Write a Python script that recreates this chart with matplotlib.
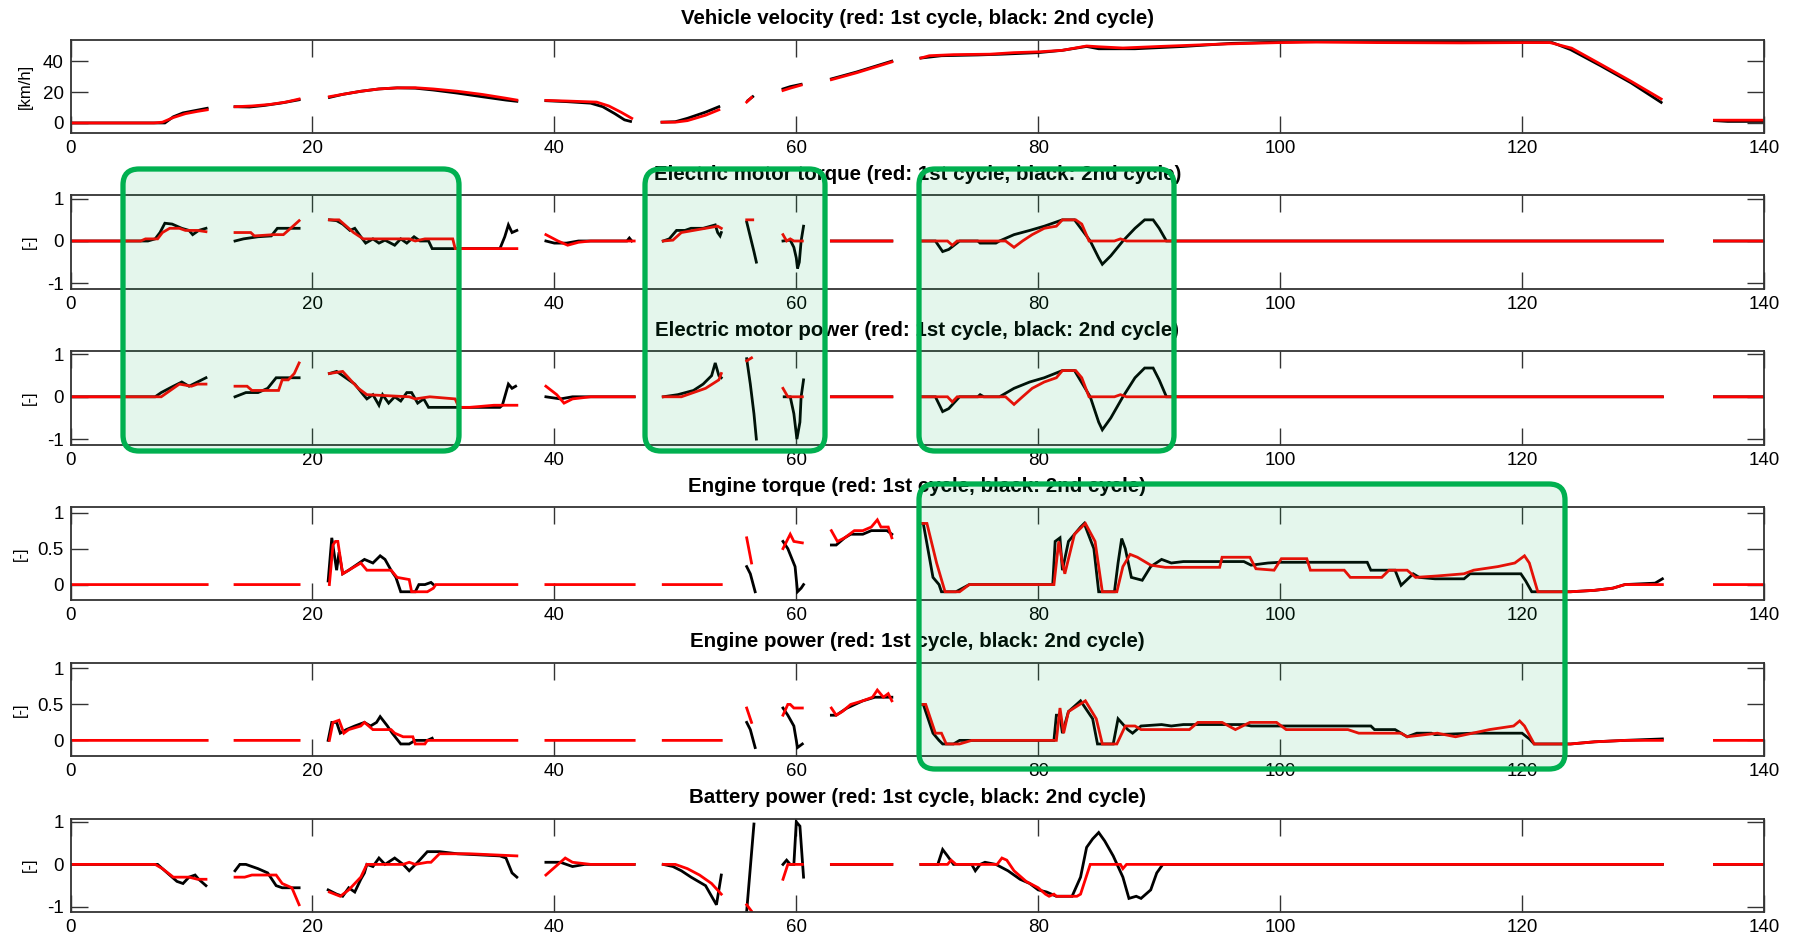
import numpy as np
import matplotlib
matplotlib.use("Agg")
import matplotlib.pyplot as plt
from matplotlib import font_manager
from matplotlib.patches import FancyBboxPatch

# fonts: MATLAB-like narrow tick labels, Arial-like bold titles
names = {f.name for f in font_manager.fontManager.ttflist}
tick_font = 'Liberation Sans Narrow' if 'Liberation Sans Narrow' in names else 'Liberation Sans'
plt.rcParams['font.family'] = ['Liberation Sans', 'DejaVu Sans']
plt.rcParams['axes.unicode_minus'] = False

N = None  # gap between recorded pieces

# ---- data: (time [s], value), None = gap ----
vel_red = [(0, 0), (6.9, 0), (7.6, 0.5), (8.5, 3.5), (9.5, 6), (10.5, 7.5), (11.3, 8.5), N,
           (13.6, 10.5), (15, 11), (16.5, 12), (17.8, 13.5), (18.9, 15.5), N,
           (21.4, 17), (22.5, 18.5), (24, 20.5), (25.5, 22), (27, 22.7), (28.5, 22.8), (30, 22), (32, 20.5),
           (34, 18.5), (36, 16), (36.9, 14.8), N,
           (39.3, 14.6), (41, 14.2), (43.5, 13.5), (44.5, 11), (45.5, 7), (46.4, 3), N,
           (48.9, 0.5), (50, 0.5), (51, 1.5), (52.5, 5), (53.6, 8.5), N,
           (55.9, 13.5), (56.3, 16.5), N,
           (58.9, 21), (59.5, 22.5), (60.4, 24.5), N,
           (62.9, 28), (65, 32.5), (67.9, 39.5), N,
           (70.3, 42), (71, 43.5), (73, 44.2), (76, 44.5), (78, 45.5), (80, 46), (82, 47), (84, 49.8), (85, 49.3),
           (87, 48.5), (90, 49.5), (95, 51), (100, 52), (103, 52.3), (108, 52), (115, 51.8), (120, 52),
           (122.3, 52), (124.1, 48.4), (126.5, 38), (129, 27), (131.5, 15.5), N,
           (135.9, 1.8), (140, 1.8)]
vel_black = [(0, 0), (7.3, 0), (7.8, 0), (8.5, 4), (9.3, 6.5), (10.3, 8), (11.3, 9.5), N,
             (13.6, 10.5), (14.8, 10.3), (16, 11.3), (17.5, 13), (18.9, 15), N,
             (21.4, 16.5), (22.5, 18.5), (24, 20.5), (25.5, 22), (27, 22.7), (28.5, 22.5), (30, 21.3), (32, 19.3),
             (34, 17), (36, 14.8), (36.9, 14), N,
             (39.3, 14.4), (41, 13.8), (43, 12.8), (44, 10.5), (45, 6), (45.8, 2), (46.3, 1), N,
             (48.9, 0.5), (50, 0.8), (51, 3), (52.5, 7), (53.6, 10.5), N,
             (56, 14.5), (56.4, 17), N,
             (58.9, 22), (59.5, 23.5), (60.4, 25), N,
             (62.9, 28.5), (65, 33), (67.9, 40), N,
             (70.3, 42), (72, 43.5), (75, 44), (77, 44.5), (80, 45.5), (82, 47), (84, 49.5), (85, 48), (88, 48),
             (92, 49.5), (96, 51.5), (100, 52.3), (104, 53), (112, 53), (118, 52.5), (120, 52.3), (122.5, 52),
             (124, 47.5), (126.5, 37), (129, 26), (131.5, 13.3), N,
             (135.9, 1.5), (137, 1), (140, 1)]

emt_red = [(0, 0), (5.8, 0), (6.2, 0.05), (7.2, 0.05), (7.6, 0.2), (8.2, 0.3), (9, 0.3), (9.5, 0.25), (10.5, 0.25),
           (11.2, 0.22), N,
           (13.6, 0.2), (14.9, 0.2), (15.2, 0.12), (16.8, 0.15), (17.6, 0.15), (18.2, 0.3), (18.9, 0.48), N,
           (21.4, 0.5), (22.2, 0.5), (22.8, 0.35), (23.4, 0.2), (24.2, 0.05), (28, 0.05), (28.5, 0.0), (29.3, 0.05),
           (31.6, 0.05), (31.8, -0.18), (36.9, -0.18), N,
           (39.3, 0.15), (40.3, 0.0), (41.1, -0.1), (42, -0.03), (43, 0.0), (46.6, 0.0), N,
           (49, 0.0), (49.8, 0.02), (50.5, 0.2), (51.5, 0.25), (52.5, 0.3), (53.5, 0.35), (53.8, 0.3), N,
           (55.9, 0.5), (56.4, 0.5), N,
           (58.9, 0.15), (59.2, 0.0), (59.5, 0.05), (59.8, 0.0), (60.5, 0.0), N,
           (62.9, 0), (67.9, 0), N,
           (70.3, 0), (72.5, 0), (72.9, -0.1), (73.3, 0), (77.3, 0), (78, -0.15), (78.7, 0), (79.5, 0.15),
           (80.5, 0.3), (81.5, 0.35), (82, 0.5), (83.1, 0.5), (83.6, 0.4), (84.2, 0), (86.3, 0), (86.8, 0.05),
           (87.3, 0), (131.6, 0), N,
           (135.9, 0), (140, 0)]
emt_black = [(0, 0), (6.4, 0), (7, 0.05), (7.4, 0.2), (7.8, 0.42), (8.4, 0.4), (9.2, 0.3), (9.8, 0.25),
             (10.1, 0.15), (10.6, 0.25), (11.2, 0.3), N,
             (13.6, 0.0), (14.3, 0.05), (15.5, 0.1), (16.6, 0.12), (17.1, 0.3), (18.9, 0.3), N,
             (21.4, 0.5), (22, 0.48), (22.5, 0.4), (23.1, 0.25), (23.5, 0.3), (24, 0.1), (24.4, -0.05), (25, 0.05),
             (25.5, -0.05), (26, 0.02), (26.8, -0.1), (27.3, 0.05), (27.8, -0.05), (28.4, 0.1), (28.9, 0.0),
             (29.6, 0.0), (29.9, -0.18), (35.5, -0.18), (35.9, 0.1), (36.2, 0.38), (36.5, 0.2), (36.9, 0.25), N,
             (39.3, 0.0), (40, -0.05), (41, -0.05), (42, 0.0), (46.0, 0.0), (46.2, 0.07), (46.4, 0.0), N,
             (49, 0.0), (49.5, 0.05), (50.1, 0.25), (50.8, 0.25), (51.3, 0.3), (52.3, 0.3), (53.3, 0.38),
             (53.5, 0.2), (53.7, 0.12), (53.8, 0.2), N,
             (55.9, 0.45), (56.2, 0.1), (56.5, -0.25), (56.7, -0.5), N,
             (58.9, 0.0), (59.5, 0.02), (59.8, -0.15), (60.0, -0.4), (60.1, -0.65), (60.25, -0.5), (60.4, 0.0),
             (60.6, 0.35), N,
             (62.9, 0), (67.9, 0), N,
             (70.3, 0), (71.5, 0), (72.1, -0.25), (72.6, -0.2), (73.5, 0), (75, 0), (75.2, -0.05), (76.5, -0.05),
             (76.8, 0), (78, 0.15), (79.3, 0.25), (80.5, 0.35), (82, 0.5), (83, 0.5), (84.3, 0), (85, -0.4),
             (85.3, -0.55), (86, -0.35), (87, 0), (88, 0.3), (88.8, 0.5), (89.5, 0.5), (90, 0.3), (90.6, 0),
             (131.6, 0), N,
             (135.9, 0), (140, 0)]

emp_red = [(0, 0), (7.5, 0), (8, 0.1), (9, 0.3), (10, 0.25), (10.5, 0.3), (11.2, 0.3), N,
           (13.6, 0.25), (14.6, 0.25), (15, 0.15), (17.2, 0.15), (17.5, 0.4), (18, 0.4), (18.5, 0.55), (18.9, 0.8), N,
           (21.4, 0.55), (22.5, 0.6), (23.3, 0.35), (23.8, 0.2), (24.5, 0.05), (28, 0.0), (28.5, -0.05), (29.7, 0.0),
           (31.8, -0.05), (32.1, -0.25), (33, -0.25), (35, -0.2), (36.9, -0.2), N,
           (39.3, 0.25), (40.2, 0.05), (40.8, -0.15), (41.5, -0.05), (43, 0), (46.6, 0), N,
           (49, 0), (50.5, 0), (51.5, 0.1), (52.5, 0.2), (53.6, 0.4), (53.8, 0.55), N,
           (55.9, 0.85), (56.3, 0.92), N,
           (58.9, 0.2), (59.3, 0), (60.5, 0), N,
           (62.9, 0), (67.9, 0), N,
           (70.3, 0), (72.5, 0), (72.9, -0.12), (73.3, 0), (77.3, 0), (78, -0.18), (78.7, 0), (79.5, 0.2),
           (80.5, 0.35), (81.5, 0.45), (82, 0.62), (83.1, 0.62), (83.6, 0.45), (84.2, 0), (86.3, 0), (86.8, 0.05),
           (87.3, 0), (131.6, 0), N,
           (135.9, 0), (140, 0)]
emp_black = [(0, 0), (7, 0), (7.5, 0.1), (8.5, 0.25), (9.2, 0.35), (9.8, 0.25), (10.5, 0.35), (11.2, 0.45), N,
             (13.6, 0), (14.5, 0.1), (15.5, 0.1), (16.3, 0.2), (17, 0.45), (18.9, 0.45), N,
             (21.4, 0.55), (22, 0.6), (23, 0.4), (23.5, 0.3), (24.2, 0.05), (24.5, -0.05), (25, 0.05), (25.5, -0.2),
             (25.8, 0.05), (26.3, -0.15), (26.8, 0.0), (27.3, -0.1), (27.8, 0.1), (28.2, 0.1), (28.7, -0.15),
             (29.2, -0.05), (29.6, -0.25), (35.5, -0.25), (35.7, -0.2), (36.2, 0.3), (36.5, 0.2), (36.8, 0.25), N,
             (39.3, 0), (40.5, -0.05), (41.5, 0), (46.6, 0), N,
             (49, 0), (50.2, 0.05), (51.5, 0.15), (52.3, 0.3), (53, 0.5), (53.3, 0.8), (53.6, 0.5), (53.8, 0.45), N,
             (55.9, 0.9), (56.2, 0.3), (56.5, -0.4), (56.7, -1.0), N,
             (59, 0), (59.5, 0), (59.8, -0.4), (60.05, -1.0), (60.3, -0.6), (60.4, 0), (60.6, 0.4), N,
             (62.9, 0), (67.9, 0), N,
             (70.3, 0), (71.5, 0), (72.1, -0.35), (72.6, -0.28), (73.5, 0), (75, 0), (75.2, 0.05), (75.5, 0),
             (76.8, 0), (78, 0.2), (79.3, 0.35), (80.5, 0.45), (82, 0.62), (83, 0.62), (84.3, 0), (85, -0.6),
             (85.3, -0.78), (86, -0.5), (87, 0), (88, 0.45), (88.8, 0.68), (89.5, 0.68), (90, 0.4), (90.6, 0),
             (131.6, 0), N,
             (135.9, 0), (140, 0)]

et_red = [(0, 0), (11.3, 0), N, (13.6, 0), (18.9, 0), N,
          (21.4, 0), (21.7, 0.55), (21.9, 0.6), (22.1, 0.6), (22.5, 0.15), (23, 0.2), (24, 0.3), (24.5, 0.2),
          (26.5, 0.2), (27, 0.1), (28, 0.07), (28.2, -0.1), (29.5, -0.1), (30, -0.05), (30.2, 0), (36.9, 0), N,
          (39.3, 0), (46.6, 0), N, (49, 0), (53.8, 0), N,
          (55.9, 0.65), (56.3, 0.3), N,
          (58.9, 0.5), (59.2, 0.6), (59.5, 0.7), (59.8, 0.6), (60.5, 0.58), N,
          (62.9, 0.75), (63.4, 0.6), (64, 0.65), (64.8, 0.75), (65.5, 0.75), (66.2, 0.8), (66.7, 0.9), (67, 0.8),
          (67.6, 0.8), (67.9, 0.65), N,
          (70.3, 0.85), (70.8, 0.85), (71.6, 0.3), (72.3, -0.1), (73.5, -0.1), (74.3, 0), (81.3, 0), (81.7, 0.6),
          (82.0, 0.3), (82.2, 0.15), (83.0, 0.7), (83.9, 0.85), (84.7, 0.6), (85.3, -0.1), (86.5, -0.1),
          (87.0, 0.25), (87.6, 0.42), (88.2, 0.38), (89.3, 0.27), (90.5, 0.24), (95.0, 0.24), (95.2, 0.38),
          (97.5, 0.38), (98.0, 0.22), (99.5, 0.2), (100.1, 0.36), (102.2, 0.36), (102.5, 0.2), (105.3, 0.2),
          (105.8, 0.1), (108.4, 0.1), (109, 0.2), (110.5, 0.2), (111.2, 0.1), (113, 0.12), (115.2, 0.15),
          (116, 0.2), (118, 0.25), (119.4, 0.3), (120.2, 0.4), (120.6, 0.3), (121.3, -0.1), (124, -0.1),
          (126, -0.08), (127.5, -0.05), (128.5, 0), (131.6, 0), N,
          (135.9, 0), (140, 0)]
et_black = [(21.3, 0.05), (21.6, 0.65), (22, 0.2), (22.2, 0.45), (22.5, 0.15), (23, 0.2), (24.3, 0.35), (25, 0.3),
            (25.6, 0.4), (26, 0.35), (26.5, 0.2), (26.9, 0.1), (27.3, -0.1), (28.5, -0.1), (28.8, 0), (29.3, 0),
            (29.8, 0.03), (30, 0), N,
            (55.9, 0.25), (56.2, 0.15), (56.6, -0.1), N,
            (58.9, 0.6), (59.3, 0.5), (59.9, 0.25), (60.1, -0.1), (60.4, -0.05), (60.6, 0.0), N,
            (62.9, 0.55), (63.3, 0.55), (64, 0.65), (64.5, 0.7), (65.5, 0.7), (66.2, 0.75), (66.8, 0.75),
            (67.5, 0.75), (67.9, 0.7), N,
            (70.3, 0.85), (70.5, 0.85), (71.3, 0.1), (71.8, 0), (72.0, -0.1), (73.2, -0.1), (74.3, 0), (81.2, 0),
            (81.4, 0.6), (81.8, 0.65), (82.0, 0.2), (82.5, 0.6), (83.5, 0.8), (83.8, 0.85), (84.6, 0.5),
            (85.0, -0.1), (86.3, -0.1), (86.6, 0.3), (86.9, 0.64), (87.2, 0.5), (87.7, 0.1), (88.6, 0.06),
            (89.3, 0.25), (90.2, 0.35), (91, 0.3), (92, 0.32), (97, 0.32), (97.6, 0.27), (99, 0.3), (100, 0.31),
            (107.2, 0.31), (107.5, 0.2), (109.5, 0.2), (110, -0.01), (111, 0.15), (111.5, 0.1), (112.8, 0.08),
            (115.2, 0.08), (115.7, 0.15), (119.9, 0.15), (120.3, 0.05), (120.8, -0.1), (124, -0.1), (126, -0.08),
            (127.5, -0.05), (128.5, 0), (131, 0.02), (131.6, 0.08)]

ep_red = [(0, 0), (11.3, 0), N, (13.6, 0), (18.9, 0), N,
          (21.4, 0), (21.7, 0.25), (22.2, 0.28), (22.6, 0.1), (23, 0.15), (24, 0.2), (24.3, 0.25), (25, 0.15),
          (26.5, 0.15), (26.8, 0.1), (27.5, 0.05), (28.3, 0.05), (28.5, -0.05), (29.3, -0.05), (29.5, 0),
          (36.9, 0), N,
          (39.3, 0), (46.6, 0), N, (49, 0), (53.8, 0), N,
          (55.9, 0.45), (56.3, 0.25), N,
          (58.9, 0.35), (59.3, 0.5), (59.5, 0.5), (59.8, 0.45), (60.5, 0.45), N,
          (62.9, 0.45), (63.3, 0.35), (63.8, 0.4), (64.5, 0.5), (65.5, 0.55), (66.3, 0.6), (66.7, 0.7),
          (67.2, 0.6), (67.6, 0.65), (67.9, 0.55), N,
          (70.3, 0.5), (70.7, 0.5), (71.5, 0.1), (72.0, 0.1), (72.4, -0.05), (73.5, -0.05), (74.5, 0), (81.5, 0),
          (81.8, 0.45), (82.1, 0.1), (82.5, 0.4), (83.9, 0.55), (84.8, 0.3), (85.3, -0.05), (86.5, -0.05),
          (87.2, 0.2), (88, 0.2), (88.5, 0.15), (92.5, 0.15), (93.2, 0.25), (95.2, 0.25), (96.3, 0.15),
          (97.5, 0.25), (99.7, 0.25), (100.5, 0.15), (105.6, 0.15), (106.5, 0.1), (110, 0.1), (110.5, 0.05),
          (113, 0.1), (114.5, 0.05), (117.3, 0.15), (119.3, 0.2), (119.8, 0.27), (120.2, 0.2), (121, -0.05),
          (124, -0.05), (126, -0.02), (128.5, 0), (131.6, 0), N,
          (135.9, 0), (140, 0)]
ep_black = [(21.3, 0), (21.6, 0.25), (22.0, 0.25), (22.3, 0.1), (22.8, 0.15), (23.5, 0.2), (24.3, 0.25),
            (24.8, 0.2), (25.3, 0.25), (25.6, 0.33), (26.2, 0.2), (26.6, 0.1), (27.3, -0.05), (28, -0.05),
            (28.5, 0), (29.5, 0), (29.9, 0.03), N,
            (55.9, 0.25), (56.2, 0.15), (56.6, -0.1), N,
            (58.9, 0.45), (59.3, 0.35), (59.8, 0.2), (60.1, -0.1), (60.5, -0.05), N,
            (62.9, 0.35), (63.3, 0.35), (64.2, 0.45), (65.5, 0.55), (66.5, 0.6), (67.5, 0.6), (67.9, 0.6), N,
            (70.3, 0.5), (70.5, 0.5), (71.3, 0.1), (71.8, 0), (72.1, -0.05), (73, -0.05), (73.5, 0), (81.3, 0),
            (81.5, 0.35), (81.8, 0.35), (82.0, 0.1), (82.5, 0.4), (83.5, 0.55), (84.5, 0.3), (84.9, -0.05),
            (86.2, -0.05), (86.6, 0.3), (87.4, 0.15), (87.8, 0.1), (88.5, 0.2), (90.2, 0.22), (91, 0.2),
            (92, 0.22), (97, 0.22), (97.6, 0.2), (107.5, 0.2), (107.8, 0.15), (109.5, 0.15), (110.5, 0.05),
            (111.3, 0.1), (112.5, 0.1), (112.8, 0.08), (116, 0.1), (120, 0.1), (120.6, 0.02), (121, -0.05),
            (124, -0.05), (126, -0.02), (128.5, 0), (131.6, 0.02)]

bp_red = [(0, 0), (7.0, 0), (7.6, -0.1), (8.5, -0.3), (9.8, -0.3), (10.5, -0.35), (11.2, -0.35), N,
          (13.6, -0.3), (14.4, -0.3), (15.0, -0.25), (17.0, -0.25), (17.5, -0.45), (18.3, -0.55), (18.9, -0.95), N,
          (21.4, -0.65), (22.3, -0.75), (23, -0.6), (23.5, -0.45), (24.0, -0.3), (24.5, 0.0), (27.5, 0.0),
          (28, 0.05), (28.5, 0.0), (29.5, 0.05), (29.8, 0.05), (30.5, 0.25), (33, 0.25), (36.9, 0.2), N,
          (39.3, -0.25), (40.9, 0.15), (41.5, 0.05), (43.0, 0.0), (46.6, 0.0), N,
          (49, 0.0), (50, 0.0), (51, -0.1), (52, -0.25), (53, -0.45), (53.8, -0.7), N,
          (55.9, -0.95), (56.3, -1.1), N,
          (58.9, -0.35), (59.3, 0.0), (60.5, 0.0), N,
          (62.9, 0), (67.9, 0), N,
          (70.3, 0), (72.5, 0), (72.8, 0.1), (73.2, 0), (76.6, 0), (77.0, 0.15), (77.4, 0.1), (78.0, -0.15),
          (79.0, -0.4), (80, -0.55), (80.6, -0.7), (80.9, -0.75), (81.3, -0.7), (81.5, -0.75), (83.2, -0.75),
          (83.5, -0.7), (84.3, 0), (86.8, 0), (87.0, -0.1), (87.3, 0), (131.6, 0), N,
          (135.9, 0), (140, 0)]
bp_black = [(0, 0), (7.2, 0), (8, -0.2), (8.8, -0.4), (9.3, -0.45), (9.8, -0.3), (10.3, -0.25), (10.6, -0.35),
            (11.2, -0.5), N,
            (13.6, -0.15), (14.0, 0.0), (14.5, 0.0), (15.5, -0.1), (16.3, -0.2), (17.0, -0.5), (17.5, -0.55),
            (18.9, -0.55), N,
            (21.3, -0.6), (22, -0.7), (22.5, -0.75), (23, -0.55), (23.5, -0.65), (24, -0.35), (24.3, -0.2),
            (24.5, 0.0), (25.0, -0.05), (25.5, 0.15), (26, 0.0), (26.8, 0.15), (27.5, 0.0), (28.0, -0.15),
            (28.7, 0.05), (29.5, 0.3), (30.5, 0.3), (32, 0.25), (35.5, 0.2), (36.0, 0.15), (36.5, -0.2),
            (36.9, -0.3), N,
            (39.3, 0.05), (40.5, 0.05), (41.5, -0.05), (42.5, 0.0), (46.6, 0.0), N,
            (49, 0.0), (49.8, -0.05), (50.5, -0.15), (51.3, -0.3), (52.5, -0.5), (53, -0.75), (53.4, -0.95),
            (53.6, -0.6), (53.8, -0.25), N,
            (55.9, -1.1), (56.5, 0.95), N,
            (58.9, 0.0), (59.2, 0.1), (59.5, 0.0), (59.8, 0.0), (60.0, 1.0), (60.3, 0.9), (60.6, -0.3), N,
            (62.9, 0), (67.9, 0), N,
            (70.3, 0), (71.7, 0), (72.1, 0.35), (72.5, 0.2), (73, 0), (74.5, 0), (74.8, -0.15), (75.2, 0),
            (75.6, 0.05), (76.5, 0), (77.5, -0.15), (78.5, -0.35), (79.3, -0.45), (80, -0.6), (80.7, -0.65),
            (81.5, -0.75), (82.8, -0.75), (83.5, -0.3), (84.0, 0.4), (84.5, 0.6), (85.0, 0.75), (85.5, 0.55),
            (86.2, 0.2), (87, -0.3), (87.5, -0.8), (88.1, -0.75), (88.5, -0.8), (89.3, -0.6), (89.8, -0.2),
            (90.3, 0), (131.6, 0), N,
            (135.9, 0), (140, 0)]

titles = ['Vehicle velocity (red: 1st cycle, black: 2nd cycle)',
          'Electric motor torque (red: 1st cycle, black: 2nd cycle)',
          'Electric motor power (red: 1st cycle, black: 2nd cycle)',
          'Engine torque (red: 1st cycle, black: 2nd cycle)',
          'Engine power (red: 1st cycle, black: 2nd cycle)',
          'Battery power (red: 1st cycle, black: 2nd cycle)']
ylabels = ['[km/h]', '[-]', '[-]', '[-]', '[-]', '[-]']
yticks = [[0, 20, 40], [-1, 0, 1], [-1, 0, 1], [0, 0.5, 1], [0, 0.5, 1], [-1, 0, 1]]
ylims = [(-6.5, 54), (-1.13, 1.08), (-1.13, 1.08), (-0.22, 1.08), (-0.22, 1.08), (-1.12, 1.08)]
xticks = [0, 20, 40, 60, 80, 100, 120, 140]
reds = [vel_red, emt_red, emp_red, et_red, ep_red, bp_red]
blacks = [vel_black, emt_black, emp_black, et_black, ep_black, bp_black]


def to_xy(points):
    t = [np.nan if p is None else p[0] for p in points]
    v = [np.nan if p is None else p[1] for p in points]
    return np.array(t, float), np.array(v, float)


W, H = 1795, 936
fig = plt.figure(figsize=(W / 100, H / 100), dpi=100)
fig.patch.set_facecolor('white')

left, right = 70.5, 1764
top0, step, h = 39.5, 155.8, 93.5
for i in range(6):
    top = top0 + i * step
    ax = fig.add_axes([left / W, 1 - (top + h) / H, (right - left) / W, h / H])
    tb, vb = to_xy(blacks[i])
    tr, vr = to_xy(reds[i])
    ax.plot(tb, vb, color='black', lw=2.0, solid_joinstyle='miter')
    ax.plot(tr, vr, color='red', lw=2.0, solid_joinstyle='miter')
    ax.set_xlim(0, 140)
    ax.set_ylim(*ylims[i])
    ax.set_xticks(xticks)
    ax.set_xticklabels([str(x) for x in xticks])
    ax.set_yticks(yticks[i])
    ax.set_yticklabels([('%g' % y) for y in yticks[i]])
    ax.tick_params(direction='in', length=12, width=1.0, color='#333333',
                   top=True, right=True, labelsize=13.5, pad=5)
    for lab in ax.get_xticklabels() + ax.get_yticklabels():
        lab.set_family(tick_font)
    for s in ax.spines.values():
        s.set_color('#333333')
        s.set_linewidth(1.3)
    ax.set_title(titles[i], fontsize=14.8, fontweight='bold', pad=11)
    ax.set_ylabel(ylabels[i], fontsize=12, family=tick_font, labelpad=7)

# green highlight boxes drawn over the figure (pixel coordinates)
over = fig.add_axes([0, 0, 1, 1], zorder=10)
over.set_xlim(0, W)
over.set_ylim(H, 0)
over.axis('off')
over.patch.set_alpha(0)
boxes = [(123, 169, 336, 282), (645, 169, 180, 282), (919, 169, 255, 282), (919, 484, 646, 285)]
for x0, y0, bw, bh in boxes:
    over.add_patch(FancyBboxPatch((x0, y0), bw, bh, boxstyle='round,pad=0,rounding_size=16',
                                  facecolor=(0.0, 0.69, 0.31, 0.105), edgecolor='#00B050', lw=3.8))

fig.savefig('out.png', dpi=100)
